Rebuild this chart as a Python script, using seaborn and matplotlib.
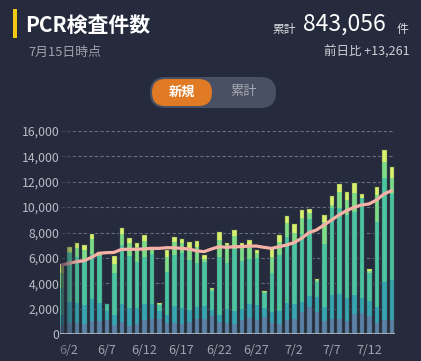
import numpy as np
import matplotlib
matplotlib.use("Agg")
import matplotlib.pyplot as plt
import seaborn as sns
from matplotlib.patches import FancyBboxPatch, Rectangle
from matplotlib.colors import to_rgb

# ---------------- data ----------------
dates = ["6/1", "6/2", "6/3", "6/4", "6/5", "6/6", "6/7", "6/8", "6/9", "6/10",
         "6/11", "6/12", "6/13", "6/14", "6/15", "6/16", "6/17", "6/18", "6/19", "6/20",
         "6/21", "6/22", "6/23", "6/24", "6/25", "6/26", "6/27", "6/28", "6/29", "6/30",
         "7/1", "7/2", "7/3", "7/4", "7/5", "7/6", "7/7", "7/8", "7/9", "7/10",
         "7/11", "7/12", "7/13", "7/14", "7/15"]

layer_blue = [710, 840, 890, 790, 1030, 1030, 1080, 710, 920, 630,
              760, 1100, 1180, 1180, 840, 840, 760, 970, 1160, 1160,
              1420, 970, 840, 790, 1100, 1240, 1100, 1310, 840, 790,
              1100, 1180, 1710, 2150, 1710, 1030, 1160, 1160, 1030, 1580,
              1630, 1420, 890, 1100, 1100]
layer_teal = [790, 1660, 1580, 1500, 1730, 1450, 700, 790, 1450, 1390,
              1260, 1260, 1180, 660, 660, 1370, 1260, 920, 950, 1050,
              470, 530, 1100, 1030, 840, 1130, 1180, 710, 870, 1050,
              1310, 1180, 840, 840, 1180, 1080, 1920, 2000, 1840, 1500,
              1180, 1210, 1210, 2970, 3150]
layer_sea = [2100, 3860, 3630, 3600, 3520, 3630, 550, 3280, 4650, 4120,
             3680, 3730, 3940, 450, 3360, 4020, 4390, 3940, 3470, 3440,
             1520, 4600, 3630, 4860, 3840, 3520, 3730, 1240, 3070, 4390,
             5210, 4920, 5330, 6070, 1240, 4960, 6830, 6750, 6510, 6570,
             7880, 2200, 6750, 8200, 6800]
layer_light = [1180, 80, 660, 740, 1180, 210, 40, 740, 870, 1000,
               1180, 1260, 390, 80, 1180, 1000, 740, 840, 1240, 260,
               110, 1310, 1450, 1050, 1180, 1080, 390, 80, 1310, 1000,
               1100, 710, 1240, 450, 130, 1730, 260, 1260, 1180, 1500,
               50, 130, 2100, 1310, 1240]
layer_yellow = [660, 530, 530, 450, 530, 260, 100, 710, 530, 470,
                340, 530, 260, 130, 660, 530, 450, 680, 600, 370,
                160, 710, 210, 530, 260, 530, 290, 130, 740, 660,
                630, 740, 740, 390, 160, 660, 760, 740, 740, 840,
                390, 240, 710, 1000, 970]
moving_avg = [5440, 5570, 5700, 5780, 6040, 6360, 6410, 6430, 6670, 6680,
              6680, 6700, 6750, 6750, 6800, 6800, 6750, 6700, 6560, 6490,
              6700, 6880, 6830, 6880, 6880, 6930, 6930, 6830, 6750, 6880,
              7010, 7200, 7540, 7990, 8200, 8590, 8980, 9380, 9720, 9980,
              10170, 10250, 10560, 11030, 11300]

tick_idx = [1, 6, 11, 16, 21, 26, 31, 36, 41]
tick_labels = ["6/2", "6/7", "6/12", "6/17", "6/22", "6/27", "7/2", "7/7", "7/12"]
y_ticks = [0, 2000, 4000, 6000, 8000, 10000, 12000, 14000, 16000]

# ---------------- style ----------------
BG = "#252a3c"
GRID = "#6a6f80"
EDGE = "#2e3843"
PINK = "#f6b2a6"
colors = ["#5b82a6", "#37a5b0", "#4bc5a0", "#7edc87", "#d7f06e"]

sns.set_theme(style="dark")
plt.rcParams["font.family"] = ["Noto Sans CJK JP", "DejaVu Sans"]

fig = plt.figure(figsize=(4.21, 3.61), dpi=100, facecolor=BG)
ax = fig.add_axes([60 / 421, 27 / 361, 335 / 421, 203 / 361])
ax.set_facecolor(BG)

layers = np.array([layer_blue, layer_teal, layer_sea, layer_light, layer_yellow])
cum = np.cumsum(layers, axis=0)
for k in reversed(range(5)):
    sns.barplot(x=dates, y=cum[k], order=dates, color=colors[k], saturation=1,
                width=0.72, linewidth=0, errorbar=None, ax=ax, zorder=2)
sns.barplot(x=dates, y=cum[4], order=dates, color=EDGE, fill=False, saturation=1,
            width=0.72, linewidth=0.9, errorbar=None, ax=ax, zorder=3)

sns.lineplot(x=np.arange(len(dates)), y=moving_avg, color=PINK, linewidth=2.3,
             ax=ax, zorder=4)

x0, x1 = -0.2, 44.47
ax.hlines(y_ticks[1:], -0.067, x1, colors=GRID, linestyles=(0, (3, 2)), lw=0.8, zorder=1)
ax.hlines(0, x0, x1, colors="#b8bac2", lw=1.2, zorder=5)

ax.set_xlim(x0, x1)
ax.set_ylim(0, 16000)
ax.set_xticks(tick_idx)
ax.set_xticklabels(tick_labels)
ax.set_yticks(y_ticks)
ax.set_yticklabels([f"{v:,}" for v in y_ticks])
ax.tick_params(axis="y", length=0, pad=0.5, colors="#b9bcc4", labelsize=8.8)
ax.tick_params(axis="x", length=0, pad=7.5, colors="#a0a3ac", labelsize=9)
ax.set_xlabel("")
ax.set_ylabel("")
ax.grid(False)
for s in ax.spines.values():
    s.set_visible(False)
if ax.get_legend():
    ax.get_legend().remove()

# ---------------- overlay (header, toggle, fade) ----------------
ov = fig.add_axes([0, 0, 1, 1], zorder=10)
ov.axis("off")

rgb = to_rgb(BG)
n = 64
ramp = (1 - np.linspace(0, 1, n)) ** 1.3
grad = np.zeros((1, n, 4))
grad[..., 0], grad[..., 1], grad[..., 2] = rgb
grad[0, :, 3] = 0.72 * ramp
ov.imshow(grad, extent=(60.5, 80, 333, 118), aspect="auto", interpolation="bilinear")
grad2 = grad.copy()
grad2[0, :, 3] = 0.45 * ramp
ov.imshow(grad2, extent=(60.5, 74, 361, 337), aspect="auto", interpolation="bilinear")
ov.set_xlim(0, 421)
ov.set_ylim(361, 0)

ov.add_patch(Rectangle((13, 9), 3.5, 29, color="#f2c811", lw=0))
ov.text(25, 25, "PCR検査件数", color="white", fontsize=15, fontweight="bold",
        va="center", ha="left")
ov.text(28, 52, "7月15日時点", color="#9fa3ad", fontsize=9.3, va="center", ha="left")

ov.text(296, 29, "累計", color="#dcdde2", fontsize=8.5, va="center", ha="right")
ov.text(303, 24, "843,056", color="white", fontsize=16.5, va="center", ha="left")
ov.text(397, 30, "件", color="#dcdde2", fontsize=8.5, va="center", ha="left")
ov.text(410, 52, "前日比 +13,261", color="#d0d2d8", fontsize=9, va="center", ha="right")

ov.add_patch(FancyBboxPatch((150, 77), 126, 31,
                            boxstyle="round,pad=0,rounding_size=15.5",
                            fc="#4a5064", ec="none"))
ov.add_patch(FancyBboxPatch((152, 79), 60, 27,
                            boxstyle="round,pad=0,rounding_size=13.5",
                            fc="#e07a24", ec="none"))
ov.text(182, 92, "新規", color="white", fontsize=9.5, fontweight="bold",
        va="center", ha="center")
ov.text(244, 92, "累計", color="#a9acb5", fontsize=9.5, va="center", ha="center")

fig.savefig("out.png", dpi=100, facecolor=BG)
